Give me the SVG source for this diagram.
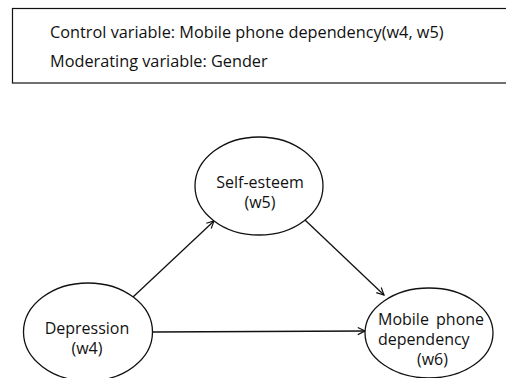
<svg xmlns="http://www.w3.org/2000/svg" width="506" height="378" viewBox="0 0 506 378">
<style>
text{font-family:"Open Sans","Noto Sans",sans-serif;font-size:16px;fill:#111}
.legend text{font-size:16.3px}
.node{fill:#fff;stroke:#111;stroke-width:1.3}
.edge{stroke:#111;stroke-width:1.3;fill:none}
</style>
<defs>
<marker id="arr" viewBox="0 0 10 10" refX="9" refY="5" markerWidth="9" markerHeight="9" markerUnits="userSpaceOnUse" orient="auto">
<path d="M1,1 L9,5 L1,9" fill="none" stroke="#111" stroke-width="1.3"/>
</marker>
</defs>
<rect width="506" height="378" fill="#fff"/>
<g id="legend" class="legend">
<rect x="12.5" y="8.5" width="510" height="74.5" fill="#fff" stroke="#111" stroke-width="1.2"/>
<text x="50" y="38">Control variable: Mobile phone dependency(w4, w5)</text>
<text x="50" y="67">Moderating variable: Gender</text>
</g>
<g id="connectors">
<line class="edge" x1="133" y1="297" x2="214" y2="221" marker-end="url(#arr)"/>
<line class="edge" x1="305" y1="220" x2="384" y2="295" marker-end="url(#arr)"/>
<line class="edge" x1="152" y1="332" x2="365" y2="331" marker-end="url(#arr)"/>
</g>
<g id="self-esteem">
<ellipse class="node" cx="259" cy="186" rx="64" ry="49"/>
<text x="260" y="188" text-anchor="middle">Self-esteem</text>
<text x="260" y="208" text-anchor="middle">(w5)</text>
</g>
<g id="depression">
<ellipse class="node" cx="88" cy="332" rx="64.5" ry="49"/>
<text x="87" y="334" text-anchor="middle">Depression</text>
<text x="87" y="354" text-anchor="middle">(w4)</text>
</g>
<g id="mobile">
<ellipse class="node" cx="429" cy="333" rx="64" ry="45"/>
<text x="378" y="325" word-spacing="3">Mobile phone</text>
<text x="378" y="345">dependency</text>
<text x="417" y="365">(w6)</text>
</g>
</svg>
